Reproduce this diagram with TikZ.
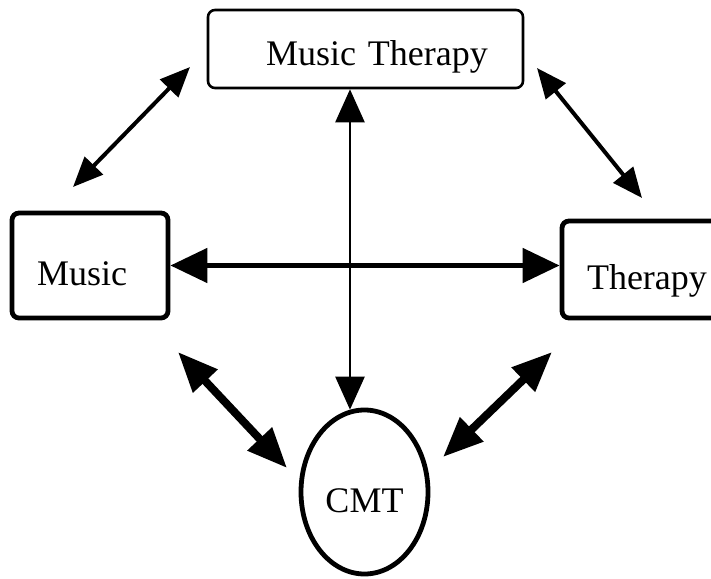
\documentclass[tikz,border=0pt]{standalone}
\usepackage{fontspec}
\setmainfont{Liberation Serif}
\usetikzlibrary{arrows.meta,shapes.geometric}
\begin{document}
\begin{tikzpicture}[x=1pt,y=-1pt,
  labeltext/.style={font=\fontsize{36}{42}\selectfont, text depth=0pt, text height=40pt},
  box/.style={draw, rounded corners=7pt, labeltext, inner sep=0pt, align=left},
  oval/.style={draw, ellipse, labeltext, inner sep=0pt},
  twoway/.style n args={3}{line width=#1,
    arrows={Triangle[length=#2,width=#3]-Triangle[length=#2,width=#3]}}
]
\useasboundingbox (0,0) rectangle (711,578);

% concepts
\node[box, line width=2.6pt, minimum width=315pt, minimum height=78pt, text width=315pt, text height=32pt] (mt) at (365.5,49) {\hspace*{58pt}Music Therapy};
\node[box, line width=4.8pt, minimum width=156pt, minimum height=105pt, text width=156pt] (music) at (90,265.5) {\hspace*{25pt}Music};
\node[box, line width=4.8pt, minimum width=173pt, minimum height=97pt, text width=173pt] (therapy) at (648.5,269.5) {\hspace*{25pt}Therapy};
\node[oval, line width=4.8pt, minimum width=127pt, minimum height=164pt] (cmt) at (364.5,492) {CMT};

% free ends of the diagonal links
\coordinate (mtA) at (190,67);
\coordinate (muA) at (73,187);
\coordinate (mtB) at (537,68);
\coordinate (thB) at (642,198);
\coordinate (muC) at (178,352);
\coordinate (cmC) at (287,468);
\coordinate (thD) at (552,352);
\coordinate (cmD) at (443,457);

% links
\draw[twoway={4pt}{30pt}{25pt}] (mtA) -- (muA);
\draw[twoway={4pt}{30pt}{25pt}] (mtB) -- (thB);
\draw[twoway={5pt}{37pt}{34pt}] (music.east) -- (music.east -| therapy.west);
\draw[twoway={2.5pt}{33pt}{29pt}] (cmt.100 |- mt.south) -- (cmt.100);
\draw[twoway={8pt}{40pt}{32pt}] (muC) -- (cmC);
\draw[twoway={8pt}{40pt}{32pt}] (thD) -- (cmD);
\end{tikzpicture}
\end{document}
